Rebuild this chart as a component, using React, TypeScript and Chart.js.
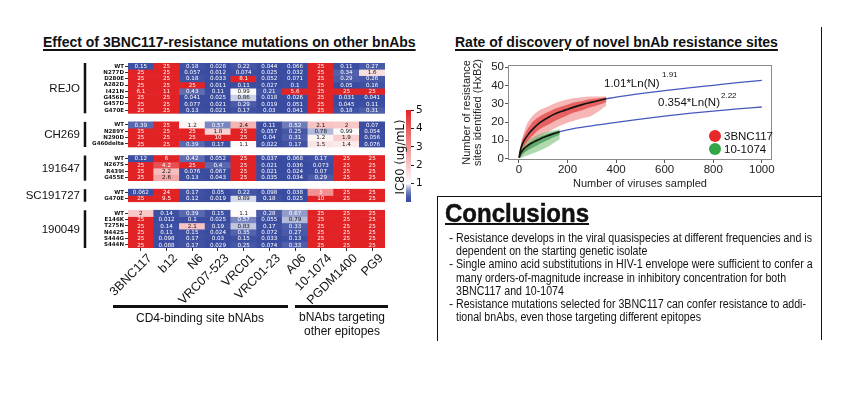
import React, { useEffect, useRef } from "react";
import { Chart, registerables } from "chart.js";
Chart.register(...registerables);

const SANS = '"Liberation Sans", Arial, sans-serif';
const DJV = '"DejaVu Sans", sans-serif';
Chart.defaults.font.family = SANS;
Chart.defaults.color = "#111";

// ---------------- Heatmap data ----------------
const antibodies = ["3BNC117", "b12", "N6", "VRC07-523", "VRC01", "VRC01-23", "A06", "10-1074", "PGDM1400", "PG9"];
const isolates = ["REJO", "CH269", "191647", "SC191727", "190049"];

const rejoMutants = ["WT", "N277D", "D280E", "A282D", "I421N", "G456D", "G457D", "G470E"];
const rejoIC80 = [
  [0.15, 25, 0.18, 0.028, 0.22, 0.044, 0.066, 25, 0.11, 0.27],
  [25, 25, 0.057, 0.012, 0.074, 0.025, 0.032, 25, 0.34, 1.6],
  [25, 25, 0.18, 0.033, 8.1, 0.052, 0.071, 25, 0.29, 0.26],
  [25, 25, 25, 0.011, 0.11, 0.027, 0.1, 25, 0.05, 0.16],
  [6.1, 11, 0.43, 0.11, 0.99, 0.21, 5.6, 25, 25, 25],
  [25, 25, 0.041, 0.025, 0.86, 0.018, 0.026, 25, 0.031, 0.041],
  [25, 25, 0.077, 0.021, 0.29, 0.019, 0.051, 25, 0.045, 0.11],
  [25, 25, 0.13, 0.021, 0.17, 0.03, 0.041, 25, 0.18, 0.31],
];
const ch269Mutants = ["WT", "N289Y", "N290D", "G460delta"];
const ch269IC80 = [
  [0.39, 25, 1.2, 0.57, 2.4, 0.11, 0.52, 2.1, 2, 0.07],
  [25, 25, 25, 1.8, 25, 0.057, 0.25, 0.78, 0.99, 0.054],
  [25, 25, 25, 10, 25, 0.04, 0.31, 1.2, 1.9, 0.056],
  [25, 25, 0.39, 0.17, 1.1, 0.022, 0.17, 1.5, 1.4, 0.076],
];
const i191647Mutants = ["WT", "N267S", "R439I", "G455E"];
const i191647IC80 = [
  [0.12, 6, 0.42, 0.052, 25, 0.037, 0.068, 0.17, 25, 25],
  [25, 4.2, 25, 0.4, 25, 0.021, 0.036, 0.073, 25, 25],
  [25, 2.2, 0.076, 0.067, 25, 0.021, 0.024, 0.07, 25, 25],
  [25, 2.6, 0.13, 0.043, 25, 0.035, 0.034, 0.29, 25, 25],
];
const sc191727Mutants = ["WT", "G470E"];
const sc191727IC80 = [
  [0.062, 24, 0.17, 0.05, 0.22, 0.098, 0.038, 3, 25, 25],
  [25, 9.5, 0.12, 0.019, 0.89, 0.18, 0.025, 10, 25, 25],
];
const i190049Mutants = ["WT", "E146K", "T275N", "N442S", "S444G", "S444N"];
const i190049IC80 = [
  [2, 0.14, 0.39, 0.15, 1.1, 0.28, 0.67, 25, 25, 25],
  [25, 0.012, 0.1, 0.025, 0.57, 0.055, 0.79, 25, 25, 25],
  [25, 0.14, 2.1, 0.19, 0.83, 0.17, 0.33, 25, 25, 25],
  [25, 0.11, 0.15, 0.024, 0.35, 0.072, 0.27, 25, 25, 25],
  [25, 0.098, 0.17, 0.03, 0.15, 0.033, 0.13, 25, 25, 25],
  [25, 0.088, 0.17, 0.029, 0.25, 0.074, 0.33, 25, 25, 25],
];
const colorbarTicks = [1, 2, 3, 4, 5];

// ---------------- Scatter / fit data ----------------
const red3BNC117X = [3, 10, 20, 30, 45, 60, 85, 120, 154, 190, 223, 260, 292, 330, 360];
const red3BNC117OuterHigh = [3, 9, 14, 18, 21.5, 24, 26.5, 28.5, 30.5, 32, 33, 33.5, 34, 34, 34];
const red3BNC117OuterLow = [0, 1.5, 3, 4, 6.5, 8.5, 12, 14.5, 17, 19, 20.5, 22, 23, 26, 29];
const red3BNC117InnerHigh = [2.5, 8.5, 12, 15, 18, 20.5, 23, 25.5, 27.5, 29, 30.5, 31.5, 32.5, 33, 33.5];
const red3BNC117InnerLow = [0.5, 4, 6.5, 8.5, 11, 13, 16, 18.5, 21, 23, 25, 26.5, 28, 29.5, 31];
const fit3BNC117X = [1, 5, 10, 20, 40, 60, 85, 120, 154, 190, 223, 260, 292, 330, 360];
const fit3BNC117Y = [0.5, 4, 6.5, 9.5, 13.5, 16.5, 19.5, 22.5, 24.8, 26.5, 28, 29.5, 30.6, 31.8, 32.7];
const ext3BNC117X = [360, 400, 500, 600, 700, 800, 900, 1000];
const ext3BNC117Y = [32.7, 33.6, 35.5, 37.2, 38.7, 40.1, 41.5, 42.8];

const green1074X = [3, 10, 20, 30, 50, 85, 126, 150, 168];
const green1074OuterHigh = [2.5, 5, 7, 8.7, 11, 13.3, 15, 15.5, 16];
const green1074OuterLow = [0, 0.5, 1, 1.5, 2.5, 4.2, 7, 9, 10.5];
const green1074InnerHigh = [1.8, 4, 5.8, 7, 9, 11.8, 13.8, 14.8, 15.5];
const green1074InnerLow = [0.5, 1.5, 3, 4, 5.5, 8, 10.5, 12, 13];
const fit1074X = [1, 5, 10, 20, 40, 60, 85, 110, 140, 168];
const fit1074Y = [0.5, 2.3, 3.6, 5.3, 7.5, 9, 10.6, 12, 13.5, 14.7];
const ext1074X = [168, 200, 300, 400, 500, 600, 700, 800, 900, 1000];
const ext1074Y = [14.7, 15.7, 17.9, 19.8, 21.6, 23.2, 24.7, 26, 27.2, 28.2];

const scatterXTicks = [0, 200, 400, 600, 800, 1000];
const scatterYTicks = [0, 10, 20, 30, 40, 50];

// ---------------- helpers ----------------
const BLUE = [58, 76, 160];
const WHITE = [255, 255, 255];
const RED = [226, 35, 38];
function mix(a: number[], b: number[], t: number) {
  const c = a.map((v, i) => Math.round(v + (b[i] - v) * t));
  return `rgb(${c[0]},${c[1]},${c[2]})`;
}
function ic80Color(v: number) {
  if (v <= 1) return mix(BLUE, WHITE, Math.pow(Math.max(v, 0), 2));
  return mix(WHITE, RED, Math.min((v - 1) / 4, 1));
}
function textColor(v: number) {
  return v < 0.7 || v >= 3 ? "#ffffff" : "#111111";
}
const pts = (xs: number[], ys: number[]) => xs.map((x, i) => ({ x, y: ys[i] }));

const GAP = 1.35;
function buildRows() {
  const groups = [
    { name: isolates[0], rows: rejoMutants, vals: rejoIC80 },
    { name: isolates[1], rows: ch269Mutants, vals: ch269IC80 },
    { name: isolates[2], rows: i191647Mutants, vals: i191647IC80 },
    { name: isolates[3], rows: sc191727Mutants, vals: sc191727IC80 },
    { name: isolates[4], rows: i190049Mutants, vals: i190049IC80 },
  ];
  let pos = 0;
  const rowLabels: string[] = [];
  const rowCenters: number[] = [];
  const rowVals: { top: number; vals: number[] }[] = [];
  const spans: { name: string; start: number; end: number }[] = [];
  groups.forEach((g, gi) => {
    if (gi > 0) pos += GAP;
    const start = pos;
    g.rows.forEach((r, ri) => {
      rowLabels.push(r);
      rowCenters.push(pos + 0.5);
      rowVals.push({ top: pos, vals: g.vals[ri] });
      pos += 1;
    });
    spans.push({ name: g.name, start, end: pos });
  });
  return { rowLabels, rowCenters, rowVals, spans, total: pos };
}

function heatmapConfig(): any {
  const { rowLabels, rowCenters, rowVals, spans, total } = buildRows();
  const cellText = {
    id: "cellText",
    afterDatasetsDraw(chart: any) {
      const ctx = chart.ctx;
      ctx.save();
      ctx.font = `5.6px ${DJV}`;
      ctx.textAlign = "center";
      ctx.textBaseline = "middle";
      chart.data.datasets.forEach((ds: any, i: number) => {
        const meta = chart.getDatasetMeta(i);
        meta.data.forEach((el: any, j: number) => {
          const v = ds.ic80[j];
          const p = el.getProps(["x", "y", "base"], true);
          ctx.fillStyle = textColor(v);
          ctx.fillText(String(v), p.x, (p.y + p.base) / 2 + 0.3);
        });
      });
      ctx.restore();
    },
  };
  const groupLabels = {
    id: "groupLabels",
    afterDraw(chart: any) {
      const ctx = chart.ctx;
      const y = chart.scales.y;
      ctx.save();
      ctx.font = `11.5px ${SANS}`;
      ctx.fillStyle = "#111";
      ctx.textAlign = "right";
      ctx.textBaseline = "middle";
      ctx.strokeStyle = "#111";
      ctx.lineWidth = 2.5;
      spans.forEach((s) => {
        const t = y.getPixelForValue(s.start);
        const b = y.getPixelForValue(s.end);
        ctx.fillText(s.name, 80, (t + b) / 2 + 0.5);
        ctx.beginPath();
        ctx.moveTo(85, t);
        ctx.lineTo(85, b);
        ctx.stroke();
      });
      ctx.restore();
    },
  };
  return {
    type: "bar",
    data: {
      labels: antibodies,
      datasets: rowVals.map((rv) => ({
        data: rv.vals.map(() => [rv.top, rv.top + 1]),
        backgroundColor: rv.vals.map(ic80Color),
        ic80: rv.vals,
        grouped: false,
        categoryPercentage: 1,
        barPercentage: 1,
        borderWidth: 0,
      })),
    },
    options: {
      animation: false,
      responsive: false,
      layout: { padding: { top: 13, right: 15, left: 0, bottom: 0 } },
      plugins: { legend: { display: false }, tooltip: { enabled: false } },
      scales: {
        x: {
          type: "category",
          offset: true,
          grid: { display: true, drawOnChartArea: false, offset: false, tickLength: 3, color: "#333" },
          border: { display: false },
          ticks: { minRotation: 45, maxRotation: 45, autoSkip: false, labelOffset: 9, font: { size: 12.5, family: SANS }, color: "#111", padding: 0 },
          afterFit: (s: any) => { s.height = 62; },
        },
        y: {
          type: "linear",
          reverse: true,
          min: 0,
          max: total,
          afterBuildTicks: (s: any) => { s.ticks = rowCenters.map((v) => ({ value: v })); },
          ticks: {
            autoSkip: false,
            callback: (_v: any, i: number) => rowLabels[i],
            font: { size: 5.5, family: DJV, weight: "bold" },
            color: "#111",
            padding: 1,
          },
          grid: { display: true, drawOnChartArea: false, tickLength: 3, color: "#333" },
          border: { display: false },
          afterFit: (s: any) => { s.width = 128; },
        },
      },
    },
    plugins: [cellText, groupLabels],
  };
}

function colorbarConfig(): any {
  return {
    type: "bar",
    data: {
      labels: ["IC80"],
      datasets: [
        {
          data: [[0, 5]],
          categoryPercentage: 1,
          barPercentage: 1,
          borderWidth: 0,
          backgroundColor: (c: any) => {
            const ca = c.chart.chartArea;
            if (!ca) return ic80Color(1);
            const g = c.chart.ctx.createLinearGradient(0, ca.bottom, 0, ca.top);
            for (let k = 0; k <= 50; k++) g.addColorStop(k / 50, ic80Color((5 * k) / 50));
            return g;
          },
        },
      ],
    },
    options: {
      animation: false,
      responsive: false,
      layout: { padding: { top: 10, left: 16, bottom: 13, right: 0 } },
      plugins: { legend: { display: false }, tooltip: { enabled: false } },
      scales: {
        x: { display: false },
        y: {
          position: "right",
          min: 0,
          max: 5,
          afterBuildTicks: (s: any) => { s.ticks = colorbarTicks.map((v) => ({ value: v })); },
          ticks: { font: { size: 10.5, family: DJV }, color: "#111", padding: 2 },
          grid: { display: true, drawOnChartArea: false, tickLength: 3, color: "#222" },
          border: { display: false },
          afterFit: (s: any) => { s.width = 29; },
        },
      },
    },
  };
}

function scatterConfig(): any {
  const frame = {
    id: "frame",
    afterDraw(chart: any) {
      const { left, top, right, bottom } = chart.chartArea;
      const ctx = chart.ctx;
      ctx.save();
      ctx.strokeStyle = "#8c8c8c";
      ctx.lineWidth = 1;
      ctx.strokeRect(left + 0.5, top + 0.5, right - left - 1, bottom - top - 1);
      ctx.restore();
    },
  };
  const band = (xs: number[], hi: number[], lo: number[], color: string, order: number) => [
    { data: pts(xs, hi), fill: "+1", backgroundColor: color, borderColor: "rgba(0,0,0,0)", order },
    { data: pts(xs, lo), fill: false, borderColor: "rgba(0,0,0,0)", order },
  ];
  const line = (xs: number[], ys: number[], color: string, w: number) => ({
    data: pts(xs, ys), borderColor: color, borderWidth: w, fill: false, order: 0,
  });
  return {
    type: "line",
    data: {
      datasets: [
        line(fit3BNC117X, fit3BNC117Y, "#111", 1.6),
        line(fit1074X, fit1074Y, "#111", 1.6),
        line(ext3BNC117X, ext3BNC117Y, "rgb(70,90,190)", 1.3),
        line(ext1074X, ext1074Y, "rgb(70,90,190)", 1.3),
        ...band(green1074X, green1074InnerHigh, green1074InnerLow, "rgba(40,140,60,0.6)", 1),
        ...band(green1074X, green1074OuterHigh, green1074OuterLow, "rgba(95,180,95,0.5)", 2),
        ...band(red3BNC117X, red3BNC117InnerHigh, red3BNC117InnerLow, "rgba(225,45,45,0.62)", 3),
        ...band(red3BNC117X, red3BNC117OuterHigh, red3BNC117OuterLow, "rgba(240,110,110,0.5)", 4),
      ],
    },
    options: {
      animation: false,
      responsive: false,
      layout: { padding: { top: 13, right: 50, left: 0, bottom: 0 } },
      plugins: { legend: { display: false }, tooltip: { enabled: false } },
      elements: { point: { radius: 0 }, line: { cubicInterpolationMode: "monotone" } },
      scales: {
        x: {
          type: "linear",
          min: -45,
          max: 1042,
          afterBuildTicks: (s: any) => { s.ticks = scatterXTicks.map((v) => ({ value: v })); },
          ticks: { callback: (v: any) => String(v), font: { size: 11.5, family: SANS }, color: "#222", padding: 0 },
          grid: { display: true, drawOnChartArea: false, tickLength: 3, color: "#555" },
          border: { display: false },
          title: { display: true, text: "Number of viruses sampled", font: { size: 11, family: SANS }, color: "#222", padding: { top: 0, bottom: 4.5 } },
          afterFit: (s: any) => { s.height = 35; },
        },
        y: {
          type: "linear",
          min: -0.8,
          max: 51.2,
          afterBuildTicks: (s: any) => { s.ticks = scatterYTicks.map((v) => ({ value: v })); },
          ticks: { callback: (v: any) => String(v), font: { size: 11.5, family: SANS }, color: "#222", padding: 1 },
          grid: { display: true, drawOnChartArea: false, tickLength: 3, color: "#555" },
          border: { display: false },
          title: {
            display: true,
            text: ["Number of resistance", "sites identified (HxB2)"],
            font: { size: 11, family: SANS, lineHeight: 1.05 },
            color: "#222",
            padding: { top: 11, bottom: 0 },
          },
          afterFit: (s: any) => { s.width = 58; },
        },
      },
    },
    plugins: [frame],
  };
}

function ChartCanvas(props: { make: () => any; left: number; top: number; width: number; height: number }) {
  const ref = useRef<HTMLCanvasElement | null>(null);
  useEffect(() => {
    const chart = new Chart(ref.current as HTMLCanvasElement, props.make());
    return () => chart.destroy();
  }, []);
  return (
    <canvas
      ref={ref}
      width={props.width}
      height={props.height}
      style={{ position: "absolute", left: props.left, top: props.top, width: props.width, height: props.height }}
    />
  );
}

const abs = (s: any): any => ({ position: "absolute", whiteSpace: "nowrap", ...s });

const conclusionLines = [
  { dash: true, text: "Resistance develops in the viral quasispecies at different frequencies and is" },
  { dash: false, text: "dependent on the starting genetic isolate" },
  { dash: true, text: "Single amino acid substitutions in HIV-1 envelope were sufficient to confer a" },
  { dash: false, text: "many orders-of-magnitude increase in inhibitory concentration for both" },
  { dash: false, text: "3BNC117 and 10-1074" },
  { dash: true, text: "Resistance mutations selected for 3BNC117 can confer resistance to addi-" },
  { dash: false, text: "tional bnAbs, even those targeting different epitopes" },
];

export default function App() {
  return (
    <div style={{ position: "absolute", left: 0, top: 0, width: 852, height: 410, background: "#fff", overflow: "hidden", fontFamily: SANS, color: "#111" }}>
      {/* Titles */}
      <div style={abs({ left: 43, top: 34, fontSize: 14, lineHeight: "16px", fontWeight: "bold", textDecoration: "underline", textDecorationThickness: "1.5px", textUnderlineOffset: "2px" })}>
        Effect of 3BNC117-resistance mutations on other bnAbs
      </div>
      <div style={abs({ left: 455, top: 34, fontSize: 14, lineHeight: "16px", fontWeight: "bold", textDecoration: "underline", textDecorationThickness: "1.5px", textUnderlineOffset: "2px" })}>
        Rate of discovery of novel bnAb resistance sites
      </div>

      {/* Heatmap */}
      <ChartCanvas make={heatmapConfig} left={0} top={50} width={400} height={260} />
      <ChartCanvas make={colorbarConfig} left={390} top={100} width={50} height={115} />
      <div style={abs({ left: 400, top: 157, transform: "translate(-50%,-50%) rotate(-90deg)", fontSize: 11.5, fontFamily: DJV })}>IC80 (ug/mL)</div>

      <div style={abs({ left: 113, top: 305, width: 175, height: 2.5, background: "#111" })} />
      <div style={abs({ left: 295, top: 305, width: 93, height: 2.5, background: "#111" })} />
      <div style={abs({ left: 200, top: 318, transform: "translate(-50%,-50%)", fontSize: 12 })}>CD4-binding site bNAbs</div>
      <div style={abs({ left: 342, top: 317, transform: "translate(-50%,-50%)", fontSize: 12 })}>bNAbs targeting</div>
      <div style={abs({ left: 342, top: 331, transform: "translate(-50%,-50%)", fontSize: 12 })}>other epitopes</div>

      {/* Scatter */}
      <ChartCanvas make={scatterConfig} left={450} top={52} width={372} height={143} />
      <div style={abs({ left: 604, top: 82.5, transform: "translateY(-50%)", fontSize: 11.5 })}>1.01*Ln(N)</div>
      <div style={abs({ left: 662, top: 73.5, transform: "translateY(-50%)", fontSize: 8 })}>1.91</div>
      <div style={abs({ left: 658, top: 102, transform: "translateY(-50%)", fontSize: 11.5 })}>0.354*Ln(N)</div>
      <div style={abs({ left: 721, top: 95, transform: "translateY(-50%)", fontSize: 8 })}>2.22</div>
      <div style={abs({ left: 709, top: 129.5, width: 12, height: 12, borderRadius: "50%", background: "rgb(232,40,40)" })} />
      <div style={abs({ left: 709, top: 142.5, width: 12, height: 12, borderRadius: "50%", background: "rgb(50,165,70)" })} />
      <div style={abs({ left: 724, top: 135.5, transform: "translateY(-50%)", fontSize: 11.5 })}>3BNC117</div>
      <div style={abs({ left: 724, top: 148.5, transform: "translateY(-50%)", fontSize: 11.5 })}>10-1074</div>

      {/* Frame lines */}
      <div style={abs({ left: 820.5, top: 27, width: 1.5, height: 313, background: "#111" })} />
      <div style={abs({ left: 436.5, top: 195.5, width: 385.5, height: 1.5, background: "#111" })} />
      <div style={abs({ left: 436.5, top: 195.5, width: 1.5, height: 145, background: "#111" })} />

      {/* Conclusions */}
      <div style={abs({ left: 445, top: 200, fontSize: 25, lineHeight: "27px", fontWeight: "bold", transform: "scaleX(0.96)", transformOrigin: "left center", WebkitTextStroke: "0.5px #111", textDecoration: "underline", textDecorationThickness: "2px", textUnderlineOffset: "1px" })}>
        Conclusions
      </div>
      {conclusionLines.map((l, i) => (
        <React.Fragment key={i}>
          {l.dash && <div style={abs({ left: 449, top: 238 + i * 13.17, transform: "translateY(-50%)", fontSize: 12.5 })}>-</div>}
          <div style={abs({ left: 456, top: 238 + i * 13.17, transform: "translateY(-50%) scaleX(0.85)", transformOrigin: "left center", fontSize: 12.5 })}>
            {l.text}
          </div>
        </React.Fragment>
      ))}
    </div>
  );
}
